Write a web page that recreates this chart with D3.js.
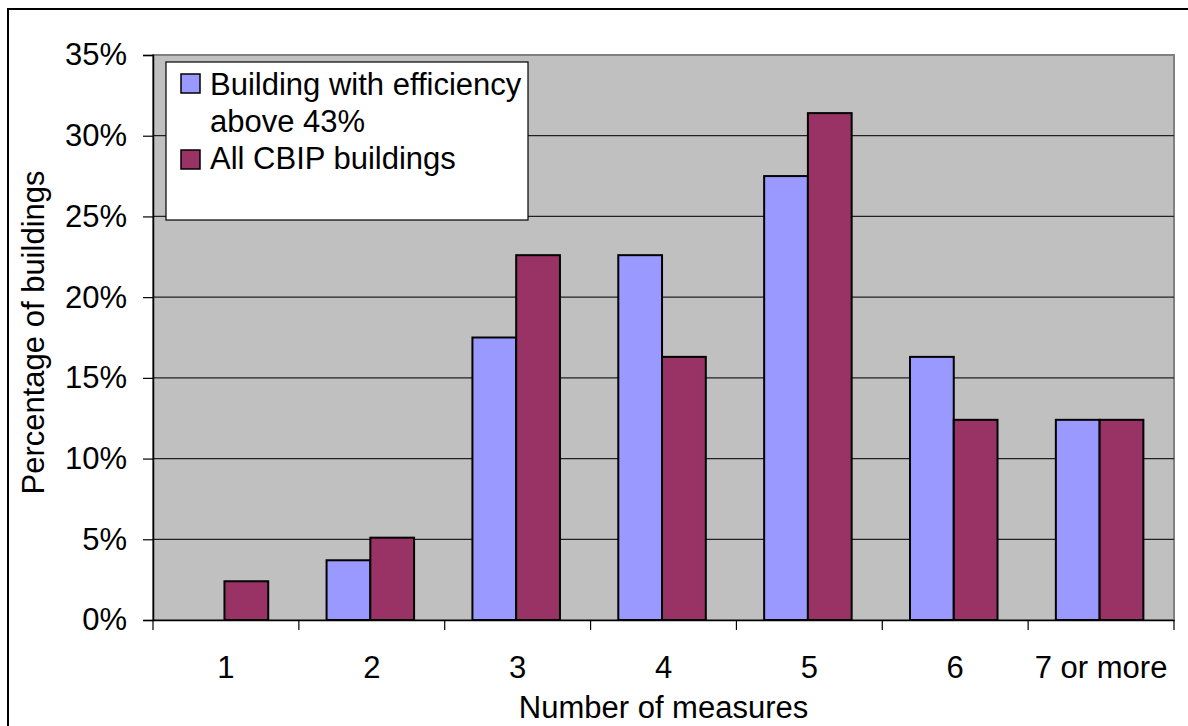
<!DOCTYPE html>
<html>
<head>
<meta charset="utf-8">
<script src="https://cdn.jsdelivr.net/npm/d3@7"></script>
<style>
  html, body { margin: 0; padding: 0; background: #fff; }
  svg { display: block; font-family: "Liberation Sans", Arial, sans-serif; }
</style>
</head>
<body>
<svg id="chart" width="1188" height="726"></svg>
<script>
// Number of energy-efficiency measures per building, share of buildings (%)
const categories = ["1", "2", "3", "4", "5", "6", "7 or more"];
const seriesNames = ["Building with efficiency above 43%", "All CBIP buildings"];
const efficientShare = [0, 3.7, 17.5, 22.6, 27.5, 16.3, 12.4];
const allCbipShare   = [2.4, 5.1, 22.6, 16.3, 31.4, 12.4, 12.4];
const yTicks = [0, 5, 10, 15, 20, 25, 30, 35];
const colors = ["#9999FF", "#993366"];

const svg = d3.select("#chart");
const plot = { left: 153, right: 1174, top: 55, bottom: 620 };
const fontSize = 31;

// outer chart frame
svg.append("rect")
  .attr("x", 8).attr("y", 9).attr("width", 1300).attr("height", 900)
  .attr("fill", "#fff").attr("stroke", "#000").attr("stroke-width", 2);

const x = d3.scaleBand().domain(categories).range([plot.left, plot.right]).padding(0);
const bw = x.bandwidth();
const x1 = d3.scaleBand().domain(seriesNames).range([bw * 0.19, bw * 0.79]).padding(0);
const y = d3.scaleLinear().domain([0, 35]).range([plot.bottom, plot.top]);

// plot background
svg.append("rect")
  .attr("x", plot.left).attr("y", plot.top)
  .attr("width", plot.right - plot.left).attr("height", plot.bottom - plot.top)
  .attr("fill", "#C0C0C0").attr("stroke", "#808080").attr("stroke-width", 2);

// horizontal gridlines
svg.append("g").selectAll("line")
  .data(yTicks.filter(t => t > 0 && t < 35))
  .join("line")
  .attr("x1", plot.left).attr("x2", plot.right)
  .attr("y1", d => y(d)).attr("y2", d => y(d))
  .attr("stroke", "#222").attr("stroke-width", 1.2);

// bars
const rows = categories.map((c, i) => ({ cat: c, vals: [efficientShare[i], allCbipShare[i]] }));
const groups = svg.append("g").selectAll("g")
  .data(rows).join("g")
  .attr("transform", d => `translate(${x(d.cat)},0)`);
groups.selectAll("rect")
  .data(d => d.vals.map((v, k) => ({ name: seriesNames[k], v, k })).filter(e => e.v > 0))
  .join("rect")
  .attr("x", d => x1(d.name))
  .attr("width", x1.bandwidth())
  .attr("y", d => y(d.v))
  .attr("height", d => y(0) - y(d.v))
  .attr("fill", d => colors[d.k])
  .attr("stroke", "#000").attr("stroke-width", 2);

// y axis
const yAxis = d3.axisLeft(y).tickValues(yTicks).tickSize(10).tickPadding(16)
  .tickFormat(d => d + "%");
const gy = svg.append("g").attr("transform", `translate(${plot.left},0)`).call(yAxis);
gy.select(".domain").attr("stroke", "#000").attr("stroke-width", 1.5);
gy.selectAll(".tick line").attr("stroke", "#000").attr("stroke-width", 1.2);
gy.selectAll(".tick text").attr("font-size", fontSize).attr("fill", "#000")
  .attr("font-family", "Liberation Sans, Arial, sans-serif");

// x axis with ticks on category boundaries
const xAxis = d3.axisBottom(x).tickSize(0).tickPadding(36);
const gx = svg.append("g").attr("transform", `translate(0,${plot.bottom})`).call(xAxis);
gx.select(".domain").attr("stroke", "#000").attr("stroke-width", 1.5);
gx.selectAll(".tick text").attr("font-size", fontSize).attr("fill", "#000")
  .attr("font-family", "Liberation Sans, Arial, sans-serif");
svg.append("g").selectAll("line")
  .data(categories.map(c => x(c)).concat([plot.right]))
  .join("line")
  .attr("x1", d => d).attr("x2", d => d)
  .attr("y1", plot.bottom).attr("y2", plot.bottom + 10)
  .attr("stroke", "#000").attr("stroke-width", 1.2);

// axis titles
svg.append("text")
  .attr("x", (plot.left + plot.right) / 2).attr("y", 718)
  .attr("text-anchor", "middle").attr("font-size", fontSize)
  .text("Number of measures");
svg.append("text")
  .attr("transform", `translate(44,${(plot.top + plot.bottom) / 2 - 5}) rotate(-90)`)
  .attr("text-anchor", "middle").attr("font-size", fontSize)
  .text("Percentage of buildings");

// legend
const legend = svg.append("g");
legend.append("rect")
  .attr("x", 166).attr("y", 62).attr("width", 362).attr("height", 158)
  .attr("fill", "#fff").attr("stroke", "#000").attr("stroke-width", 1.2);
const legendLines = [["Building with efficiency", "above 43%"], ["All CBIP buildings"]];
const swatchY = [74, 150];
const textY = [[95, 132], [169]];
seriesNames.forEach((name, k) => {
  legend.append("rect")
    .attr("x", 181).attr("y", swatchY[k]).attr("width", 19).attr("height", 19)
    .attr("fill", colors[k]).attr("stroke", "#000").attr("stroke-width", 1.5);
  legendLines[k].forEach((line, j) => {
    legend.append("text")
      .attr("x", 210).attr("y", textY[k][j])
      .attr("font-size", fontSize)
      .text(line);
  });
});
</script>
</body>
</html>
